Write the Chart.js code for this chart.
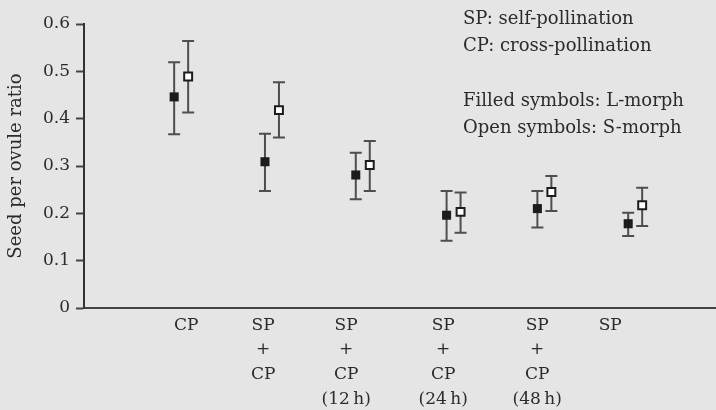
<!DOCTYPE html>
<html lang="en">
<head>
<meta charset="UTF-8">
<title>Seed per ovule ratio</title>
<script src="https://cdn.jsdelivr.net/npm/chart.js"></script>
<style>
    html, body {
        margin: 0;
        padding: 0;
        overflow: hidden;
        background-color: #e5e5e5;
    }
    .chart-box {
        width: 716px;
        height: 410px;
    }
    canvas {
        display: block;
    }
</style>
</head>
<body>
<div class="chart-box">
    <canvas id="seedChart"></canvas>
</div>
<script>
    // treatment groups, left to right
    const treatments = [
        ['CP'],
        ['SP', '+', 'CP'],
        ['SP', '+', 'CP', '(12\u2009h)'],
        ['SP', '+', 'CP', '(24\u2009h)'],
        ['SP', '+', 'CP', '(48\u2009h)'],
        ['SP']
    ];
    const groupPos = [1, 2, 3, 4, 5, 6];
    const labelPos = [1.055, 1.903, 2.817, 3.886, 4.921, 5.725];

    // L-morph (filled symbols)
    const lMean = [0.446, 0.309, 0.281, 0.196, 0.210, 0.178];
    const lLow  = [0.367, 0.247, 0.230, 0.142, 0.170, 0.152];
    const lHigh = [0.519, 0.368, 0.328, 0.247, 0.247, 0.201];

    // S-morph (open symbols)
    const sMean = [0.489, 0.418, 0.302, 0.203, 0.245, 0.217];
    const sLow  = [0.413, 0.360, 0.247, 0.159, 0.205, 0.173];
    const sHigh = [0.564, 0.477, 0.353, 0.244, 0.279, 0.254];

    const yTicks = [0, 0.1, 0.2, 0.3, 0.4, 0.5, 0.6];

    const notes = [
        'SP: self-pollination',
        'CP: cross-pollination',
        '',
        'Filled symbols: L-morph',
        'Open symbols: S-morph'
    ];

    const SHIFT = 0.077;   // side-by-side offset of the two morphs
    const FONT = '"DejaVu Serif", "Liberation Serif", serif';
    const TEXT = '#2b2b2b';
    const BAR = '#4b4f52';

    function points(means, dx) {
        return means.map((v, i) => ({ x: groupPos[i] + dx, y: v }));
    }

    // whiskers with caps, drawn under the markers
    const errorBars = {
        id: 'errorBars',
        beforeDatasetsDraw(chart) {
            const ctx = chart.ctx;
            const xs = chart.scales.x, ys = chart.scales.y;
            const sets = [[lLow, lHigh, -SHIFT], [sLow, sHigh, SHIFT]];
            ctx.save();
            ctx.strokeStyle = BAR;
            ctx.lineWidth = 2;
            sets.forEach(([lo, hi, dx]) => {
                lo.forEach((v, i) => {
                    const x = xs.getPixelForValue(groupPos[i] + dx);
                    const y1 = ys.getPixelForValue(v);
                    const y2 = ys.getPixelForValue(hi[i]);
                    ctx.beginPath();
                    ctx.moveTo(x, y1); ctx.lineTo(x, y2);
                    ctx.moveTo(x - 6, y1); ctx.lineTo(x + 6, y1);
                    ctx.moveTo(x - 6, y2); ctx.lineTo(x + 6, y2);
                    ctx.stroke();
                });
            });
            ctx.restore();
        }
    };

    // key text in the top right corner
    const notesText = {
        id: 'notesText',
        afterDraw(chart) {
            const ctx = chart.ctx;
            ctx.save();
            ctx.font = '18px ' + FONT;
            ctx.fillStyle = TEXT;
            ctx.textAlign = 'left';
            ctx.textBaseline = 'alphabetic';
            notes.forEach((t, i) => {
                ctx.fillText(t, 463, 24 + i * 27.2);
            });
            ctx.restore();
        }
    };

    const ctx = document.getElementById('seedChart').getContext('2d');
    const chart = new Chart(ctx, {
        type: 'scatter',
        data: {
            datasets: [
                {
                    label: 'L-morph',
                    data: points(lMean, -SHIFT),
                    pointStyle: 'rect',
                    pointRadius: 6.4,
                    backgroundColor: '#1e1b1c',
                    borderColor: '#1e1b1c',
                    borderWidth: 0
                },
                {
                    label: 'S-morph',
                    data: points(sMean, SHIFT),
                    pointStyle: 'rect',
                    pointRadius: 5.6,
                    backgroundColor: '#ffffff',
                    borderColor: '#1e1b1c',
                    borderWidth: 2
                }
            ]
        },
        options: {
            responsive: true,
            maintainAspectRatio: false,
            animation: false,
            layout: {
                autoPadding: false,
                padding: { top: 24, left: 0, right: 0, bottom: 0 }
            },
            plugins: {
                legend: { display: false },
                tooltip: { enabled: false }
            },
            scales: {
                x: {
                    type: 'linear',
                    min: -0.07,
                    max: 6.89,
                    afterBuildTicks(axis) {
                        axis.ticks = labelPos.map(v => ({ value: v }));
                    },
                    afterFit(axis) {
                        axis.height = 102;
                        axis.paddingLeft = 0;
                        axis.paddingRight = 0;
                    },
                    grid: { display: false },
                    border: { display: true, color: '#444', width: 2 },
                    ticks: {
                        autoSkip: false,
                        maxRotation: 0,
                        padding: -3,
                        color: TEXT,
                        font: { family: FONT, size: 17, lineHeight: 1.45 },
                        callback(value) {
                            const i = labelPos.indexOf(value);
                            return i >= 0 ? treatments[i] : '';
                        }
                    }
                },
                y: {
                    min: 0,
                    max: 0.6,
                    afterBuildTicks(axis) {
                        axis.ticks = yTicks.map(v => ({ value: v }));
                    },
                    afterFit(axis) {
                        axis.width = 84;
                    },
                    grid: {
                        drawOnChartArea: false,
                        drawTicks: true,
                        tickLength: 8,
                        tickWidth: 2,
                        color: '#444'
                    },
                    border: { display: true, color: '#333', width: 2 },
                    ticks: {
                        padding: 6,
                        color: TEXT,
                        font: { family: FONT, size: 17 },
                        callback(value) {
                            return value === 0 ? '0' : value.toFixed(1);
                        }
                    },
                    title: {
                        display: true,
                        text: 'Seed per ovule ratio',
                        color: TEXT,
                        font: { family: FONT, size: 18 },
                        padding: { top: 6, bottom: 0 }
                    }
                }
            }
        },
        plugins: [errorBars, notesText]
    });
</script>
</body>
</html>
